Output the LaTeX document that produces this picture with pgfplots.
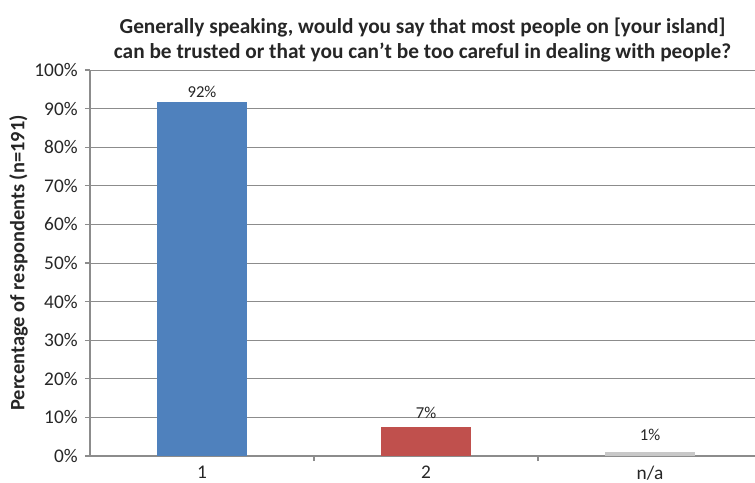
\documentclass[border=0pt]{standalone}
\usepackage{pgfplots}
\pgfplotsset{compat=1.18}
\usepackage{fontspec}
\setmainfont{Carlito}
\definecolor{bblue}{HTML}{4F81BD}
\definecolor{bred}{HTML}{C0504D}
\definecolor{bgray}{HTML}{C8C8C8}
\definecolor{gridgray}{HTML}{8C8C8C}
\begin{document}
\begin{tikzpicture}
\begin{axis}[
  name=ax,
  scale only axis, width=498.75pt, height=289.5pt,
  xmin=-0.5, xmax=2.46875, ymin=0, ymax=100,
  axis x line*=bottom, axis y line*=left,
  axis line style={gridgray, line width=0.8pt, -},
  ytick={0,10,...,100},
  yticklabel={\pgfmathprintnumber{\tick}\%},
  /pgf/number format/assume math mode=true,
  ymajorgrids, grid style={gridgray, line width=0.7pt},
  xtick={0,1,2}, xticklabels={1,2,n/a},
  minor xtick={0.5,1.5},
  major x tick style={draw=none},
  tick style={gridgray, line width=0.8pt},
  tick align=outside, major tick length=3.75pt, minor tick length=3.75pt,
  ticklabel style={font=\fontsize{14.5}{16}\selectfont, text=black!85},
  yticklabel style={xshift=-2pt},
  ylabel={Percentage of respondents (n=191)},
  ylabel style={font=\bfseries\fontsize{15.3}{17}\selectfont, text=black!85, yshift=-2pt},
  title={Generally speaking, would you say that most people on [your island]\\can be trusted or that you can’t be too careful in dealing with people?},
  title style={font=\bfseries\fontsize{16}{18.75}\selectfont, align=center, text=black!85, yshift=-3.75pt},
  ybar, bar width=67.5pt, bar shift=0pt,
  nodes near coords, point meta=explicit symbolic,
  every node near coord/.append style={font=\fontsize{12.5}{14}\selectfont, text=black!85},
]
\addplot[fill=bblue, draw=none] coordinates {(0,91.6) [92\%]};
\addplot[fill=bred, draw=none, every node near coord/.append style={yshift=3pt}] coordinates {(1,7.4) [7\%]};
\addplot[fill=bgray, draw=none, every node near coord/.append style={yshift=5pt}] coordinates {(2,1.0) [1\%]};
\end{axis}
\pgfresetboundingbox
\path[use as bounding box] ([shift={(-67.5pt,-19.5pt)}]ax.south west) rectangle ([shift={(498.75pt,342pt)}]ax.south west);
\end{tikzpicture}
\end{document}
